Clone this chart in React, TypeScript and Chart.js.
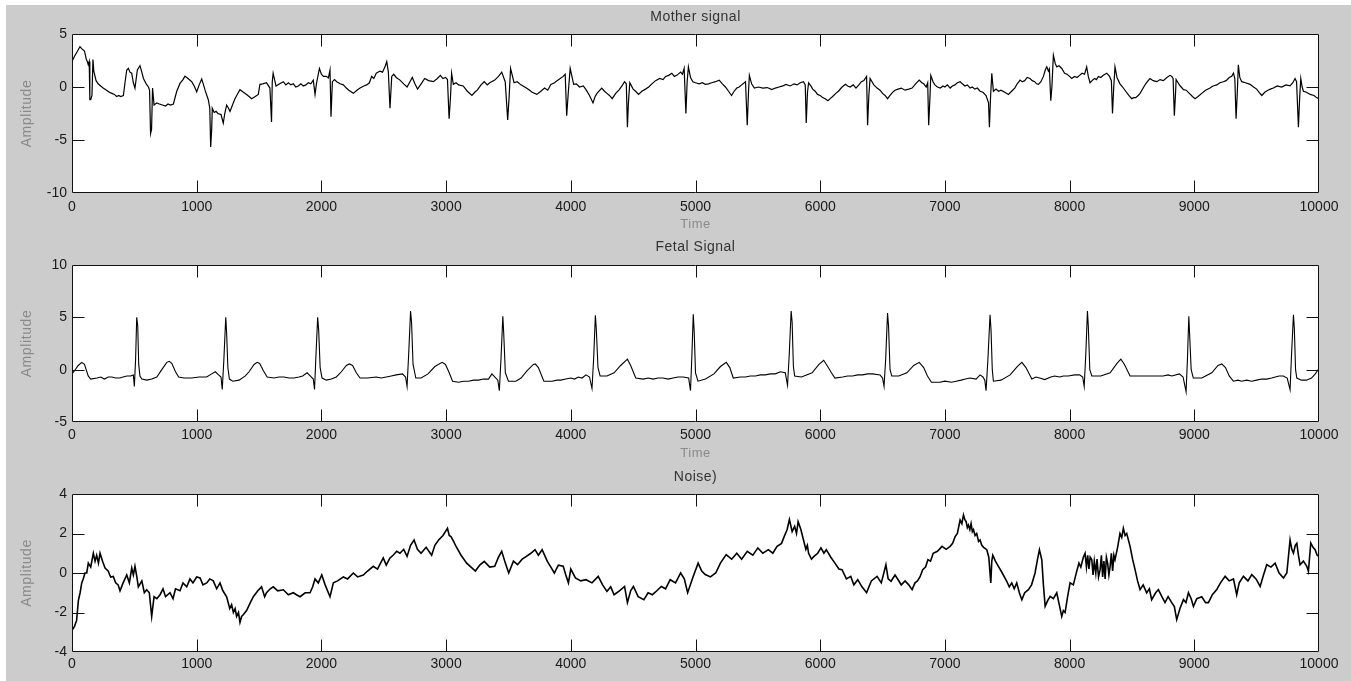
import React, { useEffect, useRef } from "react";
import { Chart, registerables } from "chart.js";

Chart.register(...registerables);

// ---------------- data (time, amplitude) ----------------
const timeTicks = [0, 1000, 2000, 3000, 4000, 5000, 6000, 7000, 8000, 9000, 10000];

const motherSignal: [number, number][] = [
  [0, 2.4], [20, 2.9], [40, 3.3], [64, 3.8], [80, 3.6], [100, 3.4], [115, 2.6], [123, 2.4], [130, 2.1], [138, 2.4],
  [143, -1.2], [150, -1.2], [160, -0.8], [168, 2.6], [175, 1.5], [193, 0.6], [210, 0.3], [230, 0.1], [250, -0.1], [277, -0.3],
  [300, -0.5], [320, -0.6], [340, -0.7], [358, -0.9], [375, -0.8], [390, -0.9], [412, -0.8], [425, 0.4], [439, 1.6], [452, 1.76],
  [465, 1.4], [479, 1.3], [492, 0.4], [505, -0.1], [515, 0.8], [524, 1.6], [545, 2.0], [560, 1.4], [573, 0.8], [595, 0.3],
  [613, 0.0], [622, -0.3], [630, -4.4], [638, -4.0], [646, -0.1], [658, -1.7], [680, -1.5], [700, -1.6], [725, -1.7], [750, -1.8],
  [770, -1.6], [790, -1.7], [813, -1.6], [840, -0.4], [866, 0.34], [890, 0.7], [906, 1.03], [930, 0.8], [960, 0.5], [980, 0.1],
  [1000, -0.45], [1020, 0.2], [1040, 0.75], [1055, 0.2], [1067, -0.3], [1093, -1.2], [1105, -2.0], [1112, -5.65], [1120, -4.0], [1125, -2.0],
  [1140, -2.4], [1155, -2.3], [1170, -2.5], [1195, -2.6], [1213, -3.4], [1225, -2.5], [1240, -1.7], [1255, -2.0], [1267, -2.3], [1290, -1.6],
  [1307, -1.1], [1325, -0.7], [1347, -0.25], [1375, -0.5], [1400, -0.7], [1420, -0.9], [1440, -1.1], [1470, -0.9], [1494, -0.7], [1507, 0.25],
  [1530, 0.3], [1560, 0.4], [1587, -0.1], [1594, -1.8], [1600, -3.3], [1606, 0.5], [1613, 1.3], [1636, 0.09], [1665, 0.3], [1695, 0.5],
  [1715, 0.2], [1735, 0.4], [1755, 0.2], [1775, 0.3], [1795, 0.0], [1815, 0.1], [1835, 0.3], [1855, 0.1], [1875, 0.2], [1895, 0.4],
  [1915, 0.3], [1935, 0.65], [1949, -0.7], [1960, 0.3], [1984, 1.75], [2000, 1.2], [2016, 1.0], [2040, 1.0], [2056, 0.85], [2069, 1.6],
  [2077, -2.8], [2088, 0.5], [2105, 0.7], [2123, 0.5], [2150, 0.3], [2176, 0.2], [2200, -0.1], [2220, -0.3], [2256, -0.6], [2285, -0.3],
  [2310, -0.1], [2340, 0.1], [2363, 0.2], [2385, 0.4], [2403, 1.0], [2420, 0.8], [2440, 1.3], [2470, 1.5], [2490, 1.4], [2510, 1.9],
  [2524, 2.4], [2537, 1.4], [2550, -2.0], [2564, 1.0], [2580, 1.2], [2600, 0.9], [2630, 0.65], [2660, 0.3], [2687, 0.0], [2710, 0.5],
  [2729, 0.9], [2750, 0.3], [2771, -0.2], [2800, 0.3], [2828, 0.8], [2860, 0.6], [2898, 0.5], [2930, 0.8], [2954, 1.1], [2975, 0.8],
  [2996, 0.9], [3011, 0.7], [3024, -3.0], [3035, -1.0], [3044, 1.3], [3058, 0.25], [3080, 0.4], [3100, 0.2], [3137, 0.1], [3170, -0.4],
  [3207, -0.8], [3230, -0.5], [3250, -0.3], [3280, 0.2], [3306, 0.5], [3330, 0.2], [3350, 0.4], [3390, 0.65], [3420, 1.0], [3446, 1.4],
  [3474, 0.5], [3494, -3.1], [3505, -1.0], [3517, 1.75], [3545, 0.4], [3570, 0.5], [3600, 0.2], [3644, -0.1], [3670, -0.3], [3690, -0.5],
  [3728, -0.7], [3760, -0.4], [3790, -0.1], [3815, -0.3], [3840, 0.25], [3870, 0.4], [3890, 0.6], [3915, 0.8], [3939, 1.0], [3955, 1.2],
  [3967, -2.7], [3980, -0.5], [3995, 1.75], [4023, 0.25], [4045, 0.3], [4070, 0.0], [4100, 0.1], [4122, -0.25], [4150, -0.8], [4178, -1.5],
  [4195, -0.9], [4210, -0.6], [4248, -0.1], [4270, -0.4], [4290, -0.6], [4310, -0.8], [4332, -1.1], [4360, -0.6], [4389, -0.25], [4410, 0.1],
  [4431, 0.5], [4445, 0.3], [4454, -3.8], [4462, -1.5], [4473, 0.4], [4500, -0.2], [4520, -0.4], [4543, -0.7], [4570, -0.4], [4599, -0.2],
  [4625, 0.0], [4650, 0.3], [4680, 0.6], [4712, 0.8], [4740, 0.7], [4760, 1.0], [4785, 1.1], [4810, 1.3], [4830, 1.0], [4850, 1.1],
  [4881, 1.4], [4895, 1.2], [4909, 1.75], [4923, -2.5], [4933, 0.5], [4943, 1.9], [4960, 0.9], [4979, 0.5], [5000, 0.4], [5030, 0.3],
  [5055, 0.4], [5078, 0.25], [5105, 0.3], [5130, 0.4], [5160, 0.5], [5190, 0.65], [5215, 0.3], [5240, 0.0], [5265, -0.4], [5289, -0.8],
  [5310, -0.4], [5331, -0.1], [5350, 0.0], [5370, 0.2], [5401, 0.5], [5415, -3.6], [5425, -0.5], [5432, 1.1], [5450, 0.3], [5472, -0.1],
  [5505, 0.0], [5540, -0.1], [5575, -0.05], [5612, -0.25], [5640, -0.1], [5670, 0.0], [5700, 0.1], [5725, 0.25], [5760, 0.1], [5790, 0.3],
  [5815, 0.2], [5840, 0.4], [5866, 0.5], [5880, 0.2], [5888, -3.4], [5898, -0.5], [5907, 0.4], [5925, 0.1], [5940, -0.2], [5960, -0.4],
  [5978, -0.7], [6000, -0.8], [6020, -1.0], [6040, -1.1], [6062, -1.3], [6080, -1.1], [6100, -0.9], [6125, -0.6], [6146, -0.4], [6175, 0.0],
  [6203, 0.25], [6220, 0.1], [6240, 0.0], [6265, 0.2], [6287, -0.1], [6310, 0.2], [6330, 0.5], [6350, 0.6], [6372, 1.0], [6380, -3.6],
  [6390, -0.8], [6400, 0.8], [6430, 0.2], [6456, -0.1], [6480, -0.3], [6500, -0.6], [6520, -0.8], [6540, -1.1], [6560, -0.8], [6580, -0.5],
  [6600, -0.3], [6625, -0.2], [6650, -0.1], [6680, -0.3], [6710, -0.2], [6737, -0.1], [6765, 0.3], [6794, 0.65], [6815, 0.4], [6830, 0.3],
  [6850, 0.0], [6862, 0.4], [6870, -3.6], [6880, -1.0], [6887, 1.1], [6905, 0.5], [6920, 0.2], [6940, 0.0], [6963, -0.1], [6985, 0.1],
  [7000, 0.0], [7020, 0.2], [7042, -0.1], [7060, 0.1], [7080, 0.2], [7100, 0.4], [7122, 0.5], [7140, 0.3], [7160, 0.1], [7180, 0.2],
  [7202, -0.1], [7220, 0.0], [7240, -0.2], [7260, -0.1], [7282, -0.4], [7305, -0.5], [7330, -0.8], [7350, -1.5], [7357, -3.8], [7366, -1.0],
  [7376, 1.3], [7389, -0.4], [7410, -0.2], [7430, -0.4], [7450, -0.3], [7480, -0.5], [7510, -0.7], [7535, -0.4], [7560, -0.1], [7580, 0.3],
  [7603, 0.65], [7620, 0.5], [7640, 0.6], [7660, 0.9], [7683, 0.8], [7700, 0.6], [7720, 0.5], [7735, 0.3], [7750, 0.25], [7770, 0.5],
  [7790, 1.0], [7805, 1.6], [7817, 1.9], [7830, 1.5], [7838, 1.7], [7849, -1.3], [7858, 0.0], [7870, 3.0], [7885, 2.2], [7897, 1.9],
  [7915, 2.0], [7937, 1.75], [7960, 1.3], [7980, 1.2], [8000, 1.0], [8017, 0.8], [8040, 1.0], [8060, 0.9], [8080, 1.1], [8100, 1.3],
  [8120, 1.2], [8137, 1.9], [8150, 1.0], [8164, 0.4], [8180, 0.6], [8200, 0.8], [8215, 0.7], [8231, 1.0], [8250, 0.9], [8270, 1.1],
  [8298, 1.3], [8320, 1.0], [8335, 0.6], [8344, -2.5], [8354, 0.0], [8364, 1.9], [8380, 0.9], [8404, 0.3], [8425, 0.0], [8450, -0.4],
  [8475, -0.8], [8498, -1.1], [8515, -1.0], [8530, -1.0], [8550, -0.8], [8565, -0.6], [8590, -0.1], [8610, 0.3], [8630, 0.6], [8645, 0.8],
  [8670, 0.6], [8700, 0.5], [8725, 0.7], [8752, 0.6], [8780, 0.9], [8805, 1.1], [8820, 1.0], [8830, 0.8], [8840, -2.7], [8850, -0.5],
  [8854, 0.7], [8870, 0.4], [8880, 0.2], [8895, 0.0], [8913, -0.25], [8935, -0.3], [8960, -0.6], [8985, -0.9], [9006, -1.1], [9030, -0.9],
  [9060, -0.6], [9090, -0.3], [9126, -0.1], [9150, 0.1], [9180, 0.2], [9205, 0.4], [9233, 0.5], [9255, 0.6], [9280, 0.9], [9300, 1.0],
  [9314, 1.3], [9325, 0.8], [9335, -3.0], [9345, -0.5], [9353, 2.1], [9365, 0.9], [9380, 0.5], [9410, 0.4], [9447, 0.25], [9475, 0.0],
  [9500, -0.2], [9520, -0.5], [9541, -0.8], [9565, -0.5], [9590, -0.3], [9610, -0.2], [9634, -0.1], [9665, 0.1], [9700, 0.0], [9735, 0.2],
  [9768, 0.1], [9790, 0.4], [9808, 0.8], [9820, 0.5], [9835, -3.8], [9845, -1.0], [9854, 0.8], [9865, 0.0], [9875, -0.4], [9900, -0.5],
  [9929, -0.7], [9960, -0.8], [9980, -1.0], [10000, -1.1],
];

const fetalSignal: [number, number][] = [
  [0, -0.4], [20, -0.1], [50, 0.4], [78, 0.7], [100, 0.5], [130, -0.6], [150, -0.9], [200, -0.8], [230, -0.7], [260, -0.9],
  [290, -0.7], [320, -0.7], [350, -0.8], [380, -0.8], [410, -0.7], [440, -0.6], [470, -0.6], [492, -0.5], [500, -1.6], [510, 1.0],
  [519, 5.0], [527, 4.2], [535, 0.5], [545, -0.6], [560, -0.9], [600, -1.0], [640, -0.9], [680, -0.7], [720, 0.0], [760, 0.7],
  [780, 0.8], [800, 0.6], [830, -0.2], [855, -0.7], [900, -0.8], [960, -0.8], [1020, -0.7], [1080, -0.7], [1120, -0.4], [1150, -0.2],
  [1175, -0.5], [1195, -0.7], [1205, -1.9], [1218, 1.0], [1233, 5.0], [1240, 3.5], [1250, 0.2], [1262, -0.9], [1290, -1.1], [1340, -1.0],
  [1390, -0.6], [1420, -0.2], [1460, 0.5], [1485, 0.7], [1505, 0.6], [1535, -0.1], [1565, -0.7], [1620, -0.8], [1660, -0.7], [1700, -0.7],
  [1740, -0.8], [1780, -0.8], [1820, -0.7], [1850, -0.6], [1885, -0.3], [1910, -0.6], [1935, -0.9], [1945, -1.9], [1955, 1.0], [1970, 5.0],
  [1978, 3.8], [1990, 0.2], [2005, -0.8], [2040, -1.0], [2080, -0.9], [2120, -0.7], [2160, -0.2], [2200, 0.4], [2225, 0.55], [2250, 0.4],
  [2280, -0.3], [2310, -0.8], [2370, -0.8], [2440, -0.7], [2480, -0.8], [2520, -0.7], [2560, -0.6], [2600, -0.5], [2650, -0.4], [2675, -0.7],
  [2687, -1.6], [2700, 1.5], [2715, 5.6], [2723, 4.5], [2735, 0.5], [2757, -0.8], [2800, -0.8], [2855, -0.4], [2910, 0.3], [2968, 0.7],
  [2995, 0.5], [3025, -0.3], [3052, -1.1], [3100, -1.2], [3140, -1.1], [3180, -1.1], [3220, -1.0], [3260, -1.0], [3300, -0.9], [3340, -0.9],
  [3367, -0.4], [3390, -0.7], [3415, -1.0], [3427, -2.0], [3440, 1.0], [3455, 5.1], [3462, 3.5], [3475, -0.3], [3500, -1.1], [3560, -1.1],
  [3601, -0.8], [3650, -0.1], [3700, 0.5], [3715, 0.55], [3740, 0.2], [3784, -1.1], [3850, -1.1], [3890, -1.0], [3920, -1.0], [3960, -0.9],
  [4000, -0.8], [4030, -0.9], [4060, -0.7], [4090, -0.8], [4122, -0.5], [4150, -0.7], [4170, -1.8], [4183, 1.0], [4197, 5.2], [4204, 4.0],
  [4218, 0.2], [4235, -0.6], [4290, -0.6], [4347, -0.3], [4400, 0.4], [4454, 1.0], [4480, 0.4], [4521, -0.8], [4580, -0.9], [4620, -0.8],
  [4660, -0.9], [4700, -0.8], [4740, -0.8], [4780, -0.9], [4820, -0.8], [4860, -0.7], [4900, -0.7], [4945, -0.8], [4960, -2.0], [4970, 1.0],
  [4982, 5.3], [4990, 3.5], [5000, -0.3], [5020, -1.1], [5080, -0.9], [5148, -0.4], [5200, 0.3], [5247, 0.7], [5275, 0.2], [5303, -0.8],
  [5360, -0.7], [5400, -0.7], [5440, -0.6], [5480, -0.6], [5520, -0.5], [5560, -0.5], [5600, -0.4], [5640, -0.4], [5680, -0.2], [5720, -0.3],
  [5738, -1.5], [5752, 1.5], [5767, 5.6], [5775, 4.5], [5785, 0.3], [5795, -0.6], [5850, -0.7], [5935, -0.3], [5990, 0.5], [6028, 0.9],
  [6060, 0.3], [6090, -0.3], [6118, -0.8], [6180, -0.7], [6220, -0.6], [6260, -0.6], [6300, -0.5], [6340, -0.5], [6380, -0.4], [6420, -0.4],
  [6480, -0.5], [6500, -0.8], [6512, -1.6], [6525, 1.0], [6540, 5.4], [6548, 4.2], [6560, 0.0], [6574, -0.6], [6630, -0.6], [6695, -0.3],
  [6750, 0.4], [6794, 0.7], [6830, 0.2], [6860, -0.6], [6892, -1.2], [6960, -1.2], [7000, -1.1], [7054, -1.2], [7090, -1.1], [7130, -1.0],
  [7165, -0.9], [7200, -0.8], [7250, -0.9], [7282, -0.5], [7305, -0.7], [7320, -1.0], [7330, -2.0], [7345, 1.0], [7362, 5.25], [7370, 3.8],
  [7380, 0.0], [7389, -1.1], [7450, -1.0], [7523, -0.5], [7580, 0.3], [7617, 0.7], [7650, 0.2], [7697, -0.9], [7730, -0.7], [7760, -0.8],
  [7800, -0.95], [7850, -0.7], [7880, -0.6], [7920, -0.7], [7950, -0.6], [7990, -0.6], [8040, -0.5], [8080, -0.5], [8105, -0.7], [8117, -1.6],
  [8130, 1.5], [8143, 5.6], [8150, 4.2], [8162, 0.0], [8178, -0.6], [8250, -0.6], [8325, -0.3], [8380, 0.6], [8411, 1.0], [8440, 0.5],
  [8485, -0.6], [8520, -0.6], [8560, -0.6], [8600, -0.6], [8650, -0.6], [8700, -0.6], [8750, -0.6], [8790, -0.5], [8820, -0.6], [8880, -0.4],
  [8910, -0.7], [8934, -2.1], [8945, 1.0], [8956, 5.1], [8962, 3.5], [8975, 0.0], [8992, -0.8], [9060, -0.8], [9140, -0.3], [9190, 0.4],
  [9220, 0.55], [9250, 0.2], [9280, -0.6], [9313, -1.1], [9350, -1.0], [9380, -1.1], [9420, -1.0], [9460, -1.1], [9500, -1.0], [9540, -0.9],
  [9580, -0.9], [9620, -0.8], [9650, -0.7], [9680, -0.6], [9714, -0.6], [9745, -0.8], [9768, -1.9], [9780, 1.5], [9795, 5.25], [9802, 4.0],
  [9812, 0.0], [9822, -0.8], [9860, -1.0], [9900, -1.0], [9940, -0.8], [9970, -0.4], [10000, 0.1],
];

const noiseSignal: [number, number][] = [
  [0, -2.9], [20, -2.7], [37, -2.4], [51, -1.4], [65, -1.0], [78, -0.5], [90, -0.3], [104, 0.0], [118, 0.0], [131, 0.5],
  [150, 0.3], [171, 1.0], [185, 0.6], [198, 0.9], [212, 0.5], [225, 1.0], [245, 0.6], [265, 0.25], [290, 0.1], [310, -0.2],
  [331, -0.17], [350, -0.5], [370, -0.6], [385, -0.9], [410, -0.5], [439, -0.1], [460, -0.5], [479, 0.25], [492, -0.1], [505, 0.34],
  [520, -0.2], [532, -0.7], [560, -0.4], [580, -1.0], [599, -0.85], [620, -1.0], [639, -2.2], [658, -1.2], [680, -1.3], [706, -1.1],
  [730, -0.8], [750, -1.2], [786, -1.0], [810, -1.3], [830, -0.8], [866, -0.9], [890, -0.5], [920, -0.7], [946, -0.3], [970, -0.5],
  [1000, -0.2], [1027, -0.25], [1050, -0.6], [1080, -0.5], [1105, -0.3], [1133, -0.4], [1160, -0.8], [1187, -0.5], [1210, -0.9], [1240, -1.2],
  [1265, -1.8], [1280, -1.6], [1294, -2.0], [1308, -1.8], [1320, -2.2], [1335, -2.0], [1347, -2.5], [1360, -2.2], [1375, -2.1], [1400, -1.9],
  [1430, -1.5], [1454, -1.2], [1490, -0.9], [1520, -0.7], [1545, -1.2], [1560, -1.0], [1590, -0.8], [1614, -0.7], [1650, -0.9], [1695, -0.85],
  [1735, -1.1], [1775, -1.0], [1800, -1.1], [1829, -1.2], [1870, -1.0], [1909, -1.0], [1930, -0.7], [1949, -0.3], [1975, -0.5], [2003, -0.1],
  [2030, -0.6], [2069, -1.2], [2096, -0.5], [2130, -0.4], [2176, -0.2], [2210, -0.3], [2256, 0.0], [2290, -0.2], [2336, -0.1], [2370, 0.1],
  [2416, 0.34], [2450, 0.2], [2496, 0.76], [2520, 0.4], [2550, 0.76], [2575, 0.9], [2604, 1.1], [2630, 1.0], [2660, 1.2], [2687, 0.84],
  [2715, 1.4], [2743, 1.67], [2770, 1.2], [2799, 1.0], [2840, 1.3], [2884, 0.9], [2910, 1.4], [2940, 1.67], [2975, 1.9], [3011, 2.26],
  [3025, 1.9], [3039, 1.84], [3060, 1.6], [3081, 1.33], [3120, 0.9], [3165, 0.5], [3200, 0.3], [3235, 0.1], [3270, 0.4], [3306, 0.59],
  [3350, 0.3], [3390, 0.34], [3420, 0.8], [3446, 1.1], [3475, 0.5], [3502, 0.0], [3540, 0.6], [3573, 0.42], [3610, 0.7], [3644, 0.84],
  [3680, 1.0], [3713, 1.18], [3740, 0.9], [3770, 1.18], [3812, 0.59], [3840, 0.3], [3868, 0.0], [3900, 0.4], [3939, 0.34], [3960, -0.1],
  [3981, -0.5], [4000, 0.2], [4037, -0.25], [4080, -0.4], [4122, -0.34], [4170, -0.5], [4220, -0.17], [4255, -0.6], [4290, -0.93], [4320, -0.7],
  [4347, -1.1], [4390, -0.9], [4431, -0.68], [4454, -1.5], [4480, -0.9], [4502, -0.68], [4540, -1.2], [4586, -1.35], [4620, -1.0], [4654, -1.1],
  [4690, -0.9], [4726, -0.68], [4760, -0.8], [4797, -0.34], [4840, -0.5], [4881, 0.0], [4910, -0.3], [4937, -1.0], [4980, -0.2], [5021, 0.5],
  [5050, 0.1], [5078, -0.08], [5120, -0.2], [5162, 0.0], [5200, 0.5], [5246, 0.93], [5290, 0.7], [5331, 1.0], [5370, 0.7], [5415, 1.1],
  [5460, 0.9], [5500, 1.27], [5540, 1.0], [5584, 1.18], [5620, 1.0], [5654, 1.35], [5690, 1.5], [5711, 1.84], [5735, 2.2], [5753, 2.7],
  [5775, 2.1], [5795, 2.36], [5810, 2.0], [5823, 2.6], [5845, 2.2], [5866, 1.67], [5885, 1.2], [5897, 1.4], [5907, 1.0], [5930, 0.7],
  [5950, 0.84], [5980, 1.0], [6006, 1.27], [6030, 1.0], [6049, 1.18], [6085, 0.8], [6118, 0.5], [6150, 0.2], [6175, 0.17], [6210, -0.3],
  [6245, -0.17], [6270, -0.6], [6301, -0.34], [6335, -0.7], [6372, -1.0], [6410, -0.4], [6456, -0.17], [6490, -0.5], [6527, 0.42], [6545, -0.3],
  [6568, -0.42], [6600, -0.1], [6625, -0.34], [6650, -0.6], [6681, -0.4], [6710, -0.6], [6737, -0.84], [6760, -0.5], [6780, -0.4], [6800, -0.2],
  [6822, 0.17], [6845, 0.3], [6864, 0.67], [6885, 0.6], [6906, 1.0], [6940, 1.1], [6977, 1.35], [7010, 1.2], [7042, 1.35], [7062, 1.5],
  [7082, 1.84], [7100, 2.0], [7122, 2.68], [7136, 2.5], [7149, 2.94], [7160, 2.7], [7170, 2.6], [7180, 2.3], [7189, 2.43], [7200, 2.2],
  [7210, 2.5], [7220, 2.1], [7229, 2.2], [7242, 1.9], [7255, 2.0], [7270, 1.6], [7282, 1.67], [7296, 1.4], [7310, 1.3], [7336, 1.18],
  [7352, 0.8], [7368, -0.5], [7376, 0.6], [7384, 0.9], [7405, 0.6], [7429, 0.34], [7460, 0.0], [7496, -0.42], [7516, -0.7], [7536, -0.5],
  [7556, -0.8], [7576, -0.5], [7597, -1.0], [7617, -1.35], [7640, -1.0], [7670, -0.84], [7695, -0.6], [7723, 0.0], [7740, 0.6], [7758, 1.18],
  [7777, 0.67], [7790, -0.6], [7804, -1.69], [7824, -1.4], [7844, -1.18], [7870, -1.3], [7897, -1.0], [7917, -1.6], [7937, -2.2], [7950, -1.9],
  [7964, -2.0], [7984, -1.2], [8004, -0.5], [8030, -0.6], [8057, 0.08], [8075, 0.5], [8090, 0.3], [8110, 0.8], [8124, 1.0], [8135, 0.3],
  [8145, 0.9], [8155, 0.2], [8165, 0.8], [8178, 0.67], [8188, -0.1], [8198, 0.6], [8210, 0.0], [8220, 0.7], [8232, -0.2], [8245, 0.17],
  [8255, 0.9], [8265, -0.2], [8275, 0.6], [8285, -0.3], [8295, 0.8], [8305, 0.5], [8315, -0.1], [8325, 0.34], [8335, 1.0], [8345, 0.1],
  [8355, 0.9], [8364, 0.67], [8385, 1.3], [8404, 2.0], [8418, 1.8], [8431, 2.26], [8445, 1.9], [8458, 2.0], [8485, 1.35], [8505, 0.7],
  [8525, 0.17], [8545, -0.4], [8565, -0.84], [8590, -0.6], [8618, -1.0], [8640, -0.8], [8658, -1.35], [8690, -1.0], [8712, -0.84], [8740, -1.2],
  [8765, -1.5], [8790, -1.2], [8819, -1.5], [8840, -1.7], [8859, -2.36], [8885, -1.8], [8913, -1.35], [8933, -1.5], [8953, -1.0], [8975, -1.3],
  [8993, -1.69], [9020, -1.3], [9060, -1.2], [9090, -1.5], [9113, -1.5], [9145, -1.1], [9180, -0.84], [9210, -0.5], [9247, -0.17], [9280, -0.4],
  [9314, -0.3], [9340, -1.1], [9360, -0.5], [9394, -0.17], [9430, -0.4], [9461, -0.08], [9495, -0.3], [9528, -0.68], [9555, -0.1], [9581, 0.42],
  [9615, 0.3], [9648, 0.5], [9680, 0.0], [9715, -0.25], [9742, 0.0], [9768, 1.67], [9782, 1.2], [9795, 1.0], [9810, 1.4], [9822, 1.5],
  [9835, 0.9], [9848, 0.42], [9875, 0.6], [9902, 0.34], [9915, 0.08], [9934, 1.52], [9952, 1.3], [9969, 1.18], [9985, 0.9], [10000, 0.84],
];

// ---------------- panel descriptions ----------------
const FONT = '"Liberation Sans", Arial, Helvetica, sans-serif';

type Panel = {
  title: string;
  data: [number, number][];
  yMin: number;
  yMax: number;
  yStep: number;
  top: number;
  height: number;
  areaTop: number;
  axisHeight: number;
  tickPad: number;
  titleY: number;
  timeY: number;
  lineWidth: number;
};

const panels: Panel[] = [
  { title: "Mother signal", data: motherSignal, yMin: -10, yMax: 5, yStep: 5, top: 0, height: 236, areaTop: 34, axisHeight: 43, tickPad: 6, titleY: 17, timeY: 224, lineWidth: 1.2 },
  { title: "Fetal Signal", data: fetalSignal, yMin: -5, yMax: 10, yStep: 5, top: 236, height: 228, areaTop: 29, axisHeight: 42, tickPad: 5, titleY: 11, timeY: 217, lineWidth: 1.1 },
  { title: "Noise)", data: noiseSignal, yMin: -4, yMax: 4, yStep: 2, top: 464, height: 217, areaTop: 30, axisHeight: 29, tickPad: 4, titleY: 13, timeY: 222, lineWidth: 1.6 },
];

const matlabFrame = {
  id: "matlabFrame",
  beforeDatasetsDraw(chart: any) {
    const { ctx, chartArea } = chart;
    ctx.save();
    ctx.fillStyle = "#ffffff";
    ctx.fillRect(chartArea.left, chartArea.top, chartArea.right - chartArea.left, chartArea.bottom - chartArea.top);
    ctx.restore();
  },
  afterDraw(chart: any, _args: any, opts: any) {
    const { ctx, chartArea, scales } = chart;
    const { left, right, top, bottom } = chartArea;
    const xs = scales.x;
    const ys = scales.y;
    ctx.save();
    ctx.strokeStyle = "#111";
    ctx.lineWidth = 1;
    ctx.beginPath();
    const L = Math.round(left) + 0.5;
    const R = Math.round(right) - 0.5;
    const T = Math.round(top) + 0.5;
    const B = Math.round(bottom) - 0.5;
    ctx.moveTo(L, T); ctx.lineTo(R, T); ctx.lineTo(R, B); ctx.lineTo(L, B); ctx.closePath();
    const tl = 12;
    xs.ticks.forEach((t: any) => {
      if (t.value <= xs.min || t.value >= xs.max) return;
      const px = Math.round(xs.getPixelForValue(t.value)) + 0.5;
      ctx.moveTo(px, B); ctx.lineTo(px, B - tl);
      ctx.moveTo(px, T); ctx.lineTo(px, T + tl);
    });
    ys.ticks.forEach((t: any) => {
      if (t.value <= ys.min || t.value >= ys.max) return;
      const py = Math.round(ys.getPixelForValue(t.value)) + 0.5;
      ctx.moveTo(L, py); ctx.lineTo(L + tl, py);
      ctx.moveTo(R, py); ctx.lineTo(R - tl, py);
    });
    ctx.stroke();

    const cx = (left + right) / 2;
    ctx.textAlign = "center";
    ctx.textBaseline = "middle";
    (ctx as any).letterSpacing = "0.5px";
    ctx.font = `14px ${FONT}`;
    ctx.fillStyle = "#333";
    ctx.fillText(opts.title, cx, opts.titleY);
    ctx.fillStyle = "#8a8a8a";
    ctx.font = `13px ${FONT}`;
    ctx.fillText("Time", cx, opts.timeY);
    ctx.save();
    ctx.translate(27, (top + bottom) / 2);
    ctx.rotate(-Math.PI / 2);
    (ctx as any).letterSpacing = "0.6px";
    ctx.font = `14px ${FONT}`;
    ctx.fillText("Amplitude", 0, 0);
    ctx.restore();
    ctx.restore();
  },
};

function PanelChart({ p }: { p: Panel }) {
  const ref = useRef<HTMLCanvasElement | null>(null);
  useEffect(() => {
    if (!ref.current) return;
    const chart = new Chart(ref.current, {
      type: "line",
      data: {
        datasets: [
          {
            data: p.data.map(([t, v]) => ({ x: t, y: v })),
            borderColor: "#000",
            borderWidth: p.lineWidth,
            pointRadius: 0,
            tension: 0,
            fill: false,
          },
        ],
      },
      options: {
        animation: false,
        responsive: false,
        devicePixelRatio: 1,
        events: [],
        layout: { padding: { top: p.areaTop, right: 32, left: 0, bottom: 0 } },
        plugins: {
          legend: { display: false },
          tooltip: { enabled: false },
          title: { display: false },
          matlabFrame: { title: p.title, titleY: p.titleY, timeY: p.timeY },
        } as any,
        scales: {
          x: {
            type: "linear",
            min: 0,
            max: 10000,
            afterBuildTicks: (s: any) => {
              s.ticks = timeTicks.map((v) => ({ value: v }));
            },
            afterFit: (s: any) => {
              s.height = p.axisHeight;
            },
            grid: { display: false, drawTicks: false },
            border: { display: false },
            ticks: {
              padding: p.tickPad,
              maxRotation: 0,
              autoSkip: false,
              color: "#1a1a1a",
              font: { family: FONT, size: 14 },
              callback: (v: any) => String(v),
            },
          },
          y: {
            type: "linear",
            min: p.yMin,
            max: p.yMax,
            afterFit: (s: any) => {
              s.width = 72;
            },
            grid: { display: false, drawTicks: false },
            border: { display: false },
            ticks: {
              stepSize: p.yStep,
              padding: 5,
              color: "#1a1a1a",
              font: { family: FONT, size: 14 },
              callback: (v: any) => String(v),
            },
          },
        },
      },
      plugins: [matlabFrame as any],
    });
    return () => chart.destroy();
  }, [p]);
  return (
    <canvas
      ref={ref}
      width={1351}
      height={p.height}
      style={{ position: "absolute", left: 0, top: p.top, width: 1351, height: p.height, display: "block" }}
    />
  );
}

export default function App() {
  useEffect(() => {
    document.body.style.margin = "0";
    document.body.style.overflow = "hidden";
  }, []);
  return (
    <div style={{ position: "relative", width: 1351, height: 681, background: "#ffffff", overflow: "hidden" }}>
      <div style={{ position: "absolute", left: 6, top: 5, right: 0, bottom: 0, background: "#cccccc" }} />
      {panels.map((p) => (
        <PanelChart key={p.title} p={p} />
      ))}
    </div>
  );
}
